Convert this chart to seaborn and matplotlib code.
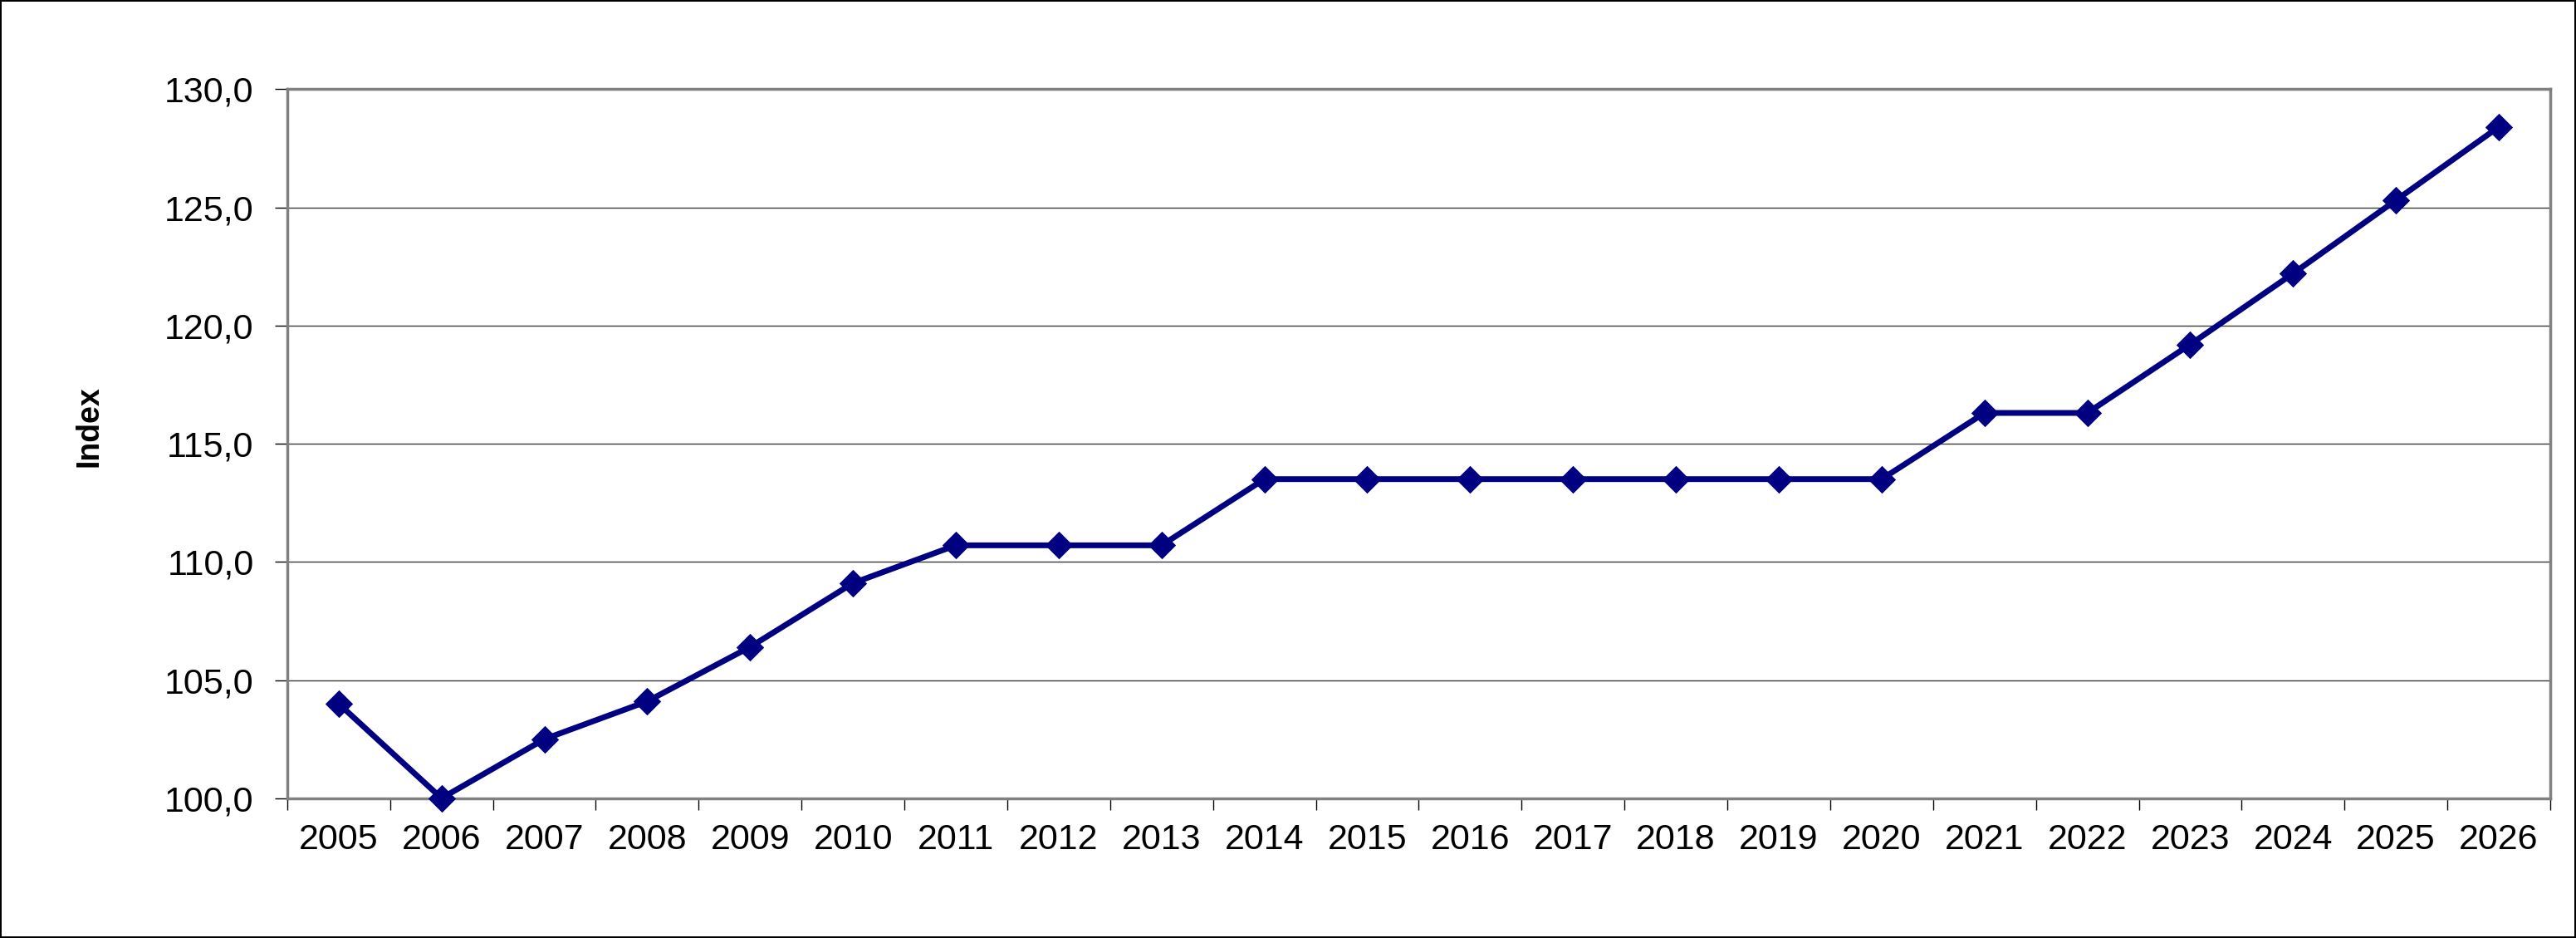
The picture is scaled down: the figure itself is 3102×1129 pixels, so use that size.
import matplotlib
matplotlib.use("Agg")
import matplotlib.pyplot as plt
import seaborn as sns
import pandas as pd
import numpy as np
from matplotlib.ticker import FixedLocator, FuncFormatter

years = [str(y) for y in range(2005, 2027)]
index_values = [104.0, 100.0, 102.5, 104.1, 106.4, 109.1, 110.7, 110.7, 110.7,
                113.5, 113.5, 113.5, 113.5, 113.5, 113.5, 113.5,
                116.3, 116.3, 119.2, 122.2, 125.3, 128.4]
y_ticks = [100, 105, 110, 115, 120, 125, 130]

df = pd.DataFrame({"year": years, "index": index_values})

sns.set_style("white")
plt.rcParams["font.family"] = ["Liberation Sans", "DejaVu Sans"]
# seaborn greys the text, the original is plain black
plt.rcParams.update({"text.color": "black", "axes.labelcolor": "black",
                     "xtick.color": "black", "ytick.color": "black"})

fig = plt.figure(figsize=(31.02, 11.29), dpi=100, edgecolor="black", linewidth=1.5)
ax = fig.add_axes([0.1115, 0.149, 0.8785, 0.756])

sns.pointplot(data=df, x="year", y="index", ax=ax, color="#000080",
              markers="D", linestyles="-", markersize=13.5, linewidth=5.0,
              errorbar=None)
for ln in ax.lines:
    ln.set_clip_on(False)
    ln.set_zorder(5)

ax.set_xlim(-0.5, len(years) - 0.5)
ax.set_ylim(100, 130)
ax.set_yticks(y_ticks)
ax.yaxis.set_major_formatter(FuncFormatter(lambda v, p: f"{v:.1f}".replace(".", ",")))

# horizontal gridlines
ax.yaxis.grid(True, color="#3a3a3a", linewidth=1.0)
ax.xaxis.grid(False)
ax.set_axisbelow(True)

# category axis: ticks between the years
ax.xaxis.set_minor_locator(FixedLocator(np.arange(-0.5, len(years), 1.0)))
ax.tick_params(axis="x", which="major", length=0, pad=22, labelsize=31, labelcolor="black")
ax.tick_params(axis="x", which="minor", length=10, width=1.0, color="black", bottom=True, direction="out")
ax.tick_params(axis="y", which="major", length=11, width=1.0, color="black", left=True,
               direction="out", pad=18, labelsize=31, labelcolor="black")

for side in ["left", "right", "top", "bottom"]:
    ax.spines[side].set_visible(True)
    ax.spines[side].set_color("#808080")
    ax.spines[side].set_linewidth(2.5)

ax.set_xlabel("")
ax.set_ylabel("Index", fontsize=27, fontweight="bold", color="black")
ax.yaxis.set_label_coords(-0.081, 0.525)

fig.savefig("out.png", dpi=100)
